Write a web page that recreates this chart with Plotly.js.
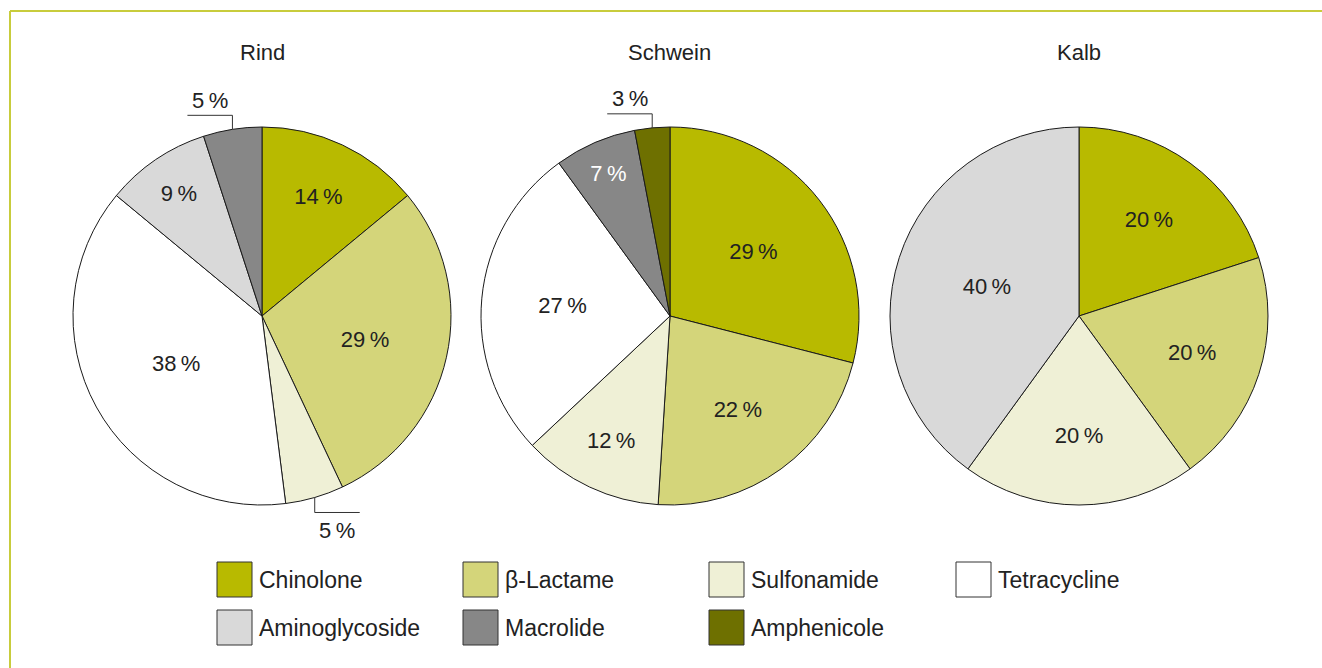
<!DOCTYPE html>
<html><head><meta charset="utf-8">
<script src="https://cdn.plot.ly/plotly-3.0.1.min.js"></script>
<style>html,body{margin:0;padding:0;background:#fff;overflow:hidden}</style>
</head><body><div id="chart" style="width:1322px;height:668px"></div>
<script>
// ---- data ----
const categories = ['Chinolone','β-Lactame','Sulfonamide','Tetracycline','Aminoglycoside','Macrolide','Amphenicole'];
const colors = ['#b8ba00','#d4d57a','#eff0d6','#ffffff','#d9d9d9','#878787','#6e7000'];
const textColors = ['#222222','#222222','#222222','#222222','#222222','#ffffff','#ffffff'];
const groups = ['Rind','Schwein','Kalb'];
const rindValues = [14,29,5,38,9,5,0];
const schweinValues = [29,22,12,27,0,7,3];
const kalbValues = [20,20,20,0,40,0,0];
const groupValues = [rindValues, schweinValues, kalbValues];

// ---- layout geometry ----
const W = 1322, H = 668;
const centersX = [262, 670, 1079];
const cy = 316, R = 189;
const FONT = 'Liberation Sans, Arial, sans-serif';
const TXT = '#222222';
const px = x => x / W;
const py = y => 1 - y / H;

const traces = [];
const shapes = [];
const annotations = [];

groups.forEach((g, gi) => {
  const vals = groupValues[gi];
  const idx = vals.map((v, i) => i).filter(i => vals[i] > 0);
  const v = idx.map(i => vals[i]);
  const cx = centersX[gi];
  traces.push({
    type: 'pie',
    labels: idx.map(i => categories[i]),
    values: v,
    sort: false,
    direction: 'clockwise',
    rotation: 0,
    marker: {colors: idx.map(i => colors[i]), line: {color: '#1a1a1a', width: 1}},
    texttemplate: '%{value}\u2009%',
    textposition: v.map(x => x < 6 ? 'none' : 'inside'),
    insidetextorientation: 'horizontal',
    textfont: {family: FONT, size: 22, color: idx.map(i => textColors[i])},
    hoverinfo: 'none',
    showlegend: false,
    domain: {x: [px(cx - R), px(cx + R)], y: [py(cy + R), py(cy - R)]}
  });
  // title
  annotations.push({text: g, x: px(cx), y: py(52), xref: 'paper', yref: 'paper',
    xanchor: 'center', yanchor: 'middle', showarrow: false,
    font: {family: FONT, size: 22, color: TXT}});
  // external labels for small slices
  const total = v.reduce((a, b) => a + b, 0);
  let cum = 0;
  v.forEach(val => {
    const mid = (cum + val / 2) / total * 2 * Math.PI;
    cum += val;
    if (val >= 6) return;
    const ax = cx + R * Math.sin(mid), ay = cy - R * Math.cos(mid);
    const up = Math.cos(mid) > 0;
    const ly = up ? ay - 14 : ay + 15;
    const lx = up ? ax - 45 : ax + 45;
    const lineStyle = {color: '#333333', width: 1};
    shapes.push({type: 'line', xref: 'paper', yref: 'paper', x0: px(ax), y0: py(ay), x1: px(ax), y1: py(ly), line: lineStyle});
    shapes.push({type: 'line', xref: 'paper', yref: 'paper', x0: px(ax), y0: py(ly), x1: px(lx), y1: py(ly), line: lineStyle});
    annotations.push({text: val + '\u2009%', x: px((ax + lx) / 2), y: py(up ? ly - 15 : ly + 18),
      xref: 'paper', yref: 'paper', xanchor: 'center', yanchor: 'middle', showarrow: false,
      font: {family: FONT, size: 22, color: TXT}});
  });
});

// frame lines
const frame = '#c8cc3c';
shapes.push({type: 'line', xref: 'paper', yref: 'paper', x0: px(10), y0: py(11), x1: px(W), y1: py(11), line: {color: frame, width: 2}});
shapes.push({type: 'line', xref: 'paper', yref: 'paper', x0: px(10), y0: py(11), x1: px(10), y1: py(H), line: {color: frame, width: 2}});

// legend
const legLeft = [217, 463, 709, 956];
const legTop = [562, 610];
const box = 35;
categories.forEach((c, i) => {
  const x0 = legLeft[i % 4], y0 = legTop[Math.floor(i / 4)];
  shapes.push({type: 'rect', xref: 'paper', yref: 'paper', x0: px(x0), x1: px(x0 + box), y0: py(y0), y1: py(y0 + box),
    fillcolor: colors[i], line: {color: '#333333', width: 1}});
  annotations.push({text: c, x: px(x0 + box + 5), y: py(y0 + box / 2), xref: 'paper', yref: 'paper',
    xanchor: 'left', yanchor: 'middle', showarrow: false, font: {family: FONT, size: 23, color: TXT}});
});

Plotly.newPlot('chart', traces, {
  width: W, height: H,
  margin: {l: 0, r: 0, t: 0, b: 0},
  paper_bgcolor: '#ffffff',
  showlegend: false,
  uniformtext: {mode: 'show', minsize: 22},
  shapes: shapes,
  annotations: annotations,
  font: {family: FONT, color: TXT}
}, {staticPlot: true});
</script></body></html>
